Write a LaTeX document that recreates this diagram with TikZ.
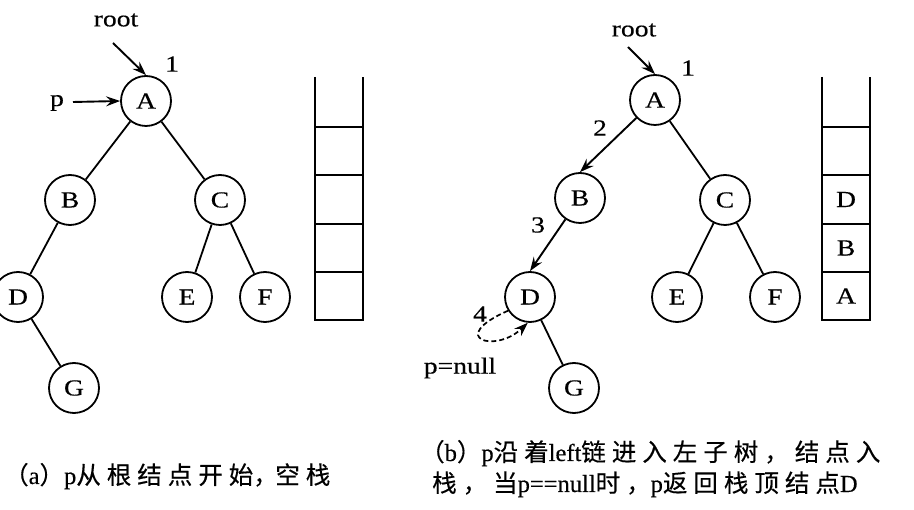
\documentclass[tikz,border=0pt]{standalone}
\usepackage{fontspec}
\setmainfont{Liberation Serif}
\newfontfamily\lab[FakeStretch=1.2,FakeBold=0.4]{Liberation Serif}
\newfontfamily\cjk[FakeBold=0.4]{Noto Sans CJK SC}
\newfontfamily\capl[FakeBold=0.3]{Liberation Serif}
\usetikzlibrary{arrows.meta}
\XeTeXinterchartokenstate=1
\XeTeXcharclass`（=7 \XeTeXcharclass`）=7 \XeTeXcharclass`，=7
\XeTeXcharclass`从=7 \XeTeXcharclass`根=7 \XeTeXcharclass`结=7
\XeTeXcharclass`点=7 \XeTeXcharclass`开=7 \XeTeXcharclass`始=7
\XeTeXcharclass`空=7 \XeTeXcharclass`栈=7 \XeTeXcharclass`沿=7
\XeTeXcharclass`着=7 \XeTeXcharclass`链=7 \XeTeXcharclass`进=7
\XeTeXcharclass`入=7 \XeTeXcharclass`左=7 \XeTeXcharclass`子=7
\XeTeXcharclass`树=7 \XeTeXcharclass`当=7 \XeTeXcharclass`时=7
\XeTeXcharclass`返=7 \XeTeXcharclass`回=7 \XeTeXcharclass`顶=7
\XeTeXinterchartoks 7 7 = {\hskip 6pt\relax}
\begin{document}
\begin{tikzpicture}[x=1pt,y=-1pt,
  vtx/.style={circle,draw,line width=1.8pt,minimum size=50pt,inner sep=0pt,font=\lab\fontsize{23}{23}\selectfont},
  edge/.style={line width=1.8pt},
  tip/.style={-{Stealth[length=14pt,width=10pt,inset=5pt]}},
  arr/.style={line width=1.9pt,tip},
  lbl/.style={font=\lab\fontsize{23}{23}\selectfont,inner sep=0pt},
  stk/.style={line width=1.8pt},
  captext/.style={inner sep=0pt,anchor=base west,font=\fontsize{24.5}{25}\selectfont}]
\useasboundingbox (0,0) rectangle (914,510);
% ---------- (a) ----------
\node[vtx] (aA) at (146,101) {A};
\node[vtx] (aB) at (70,200) {B};
\node[vtx] (aC) at (220,200) {C};
\node[vtx] (aD) at (18,297) {D};
\node[vtx] (aE) at (187,297) {E};
\node[vtx] (aF) at (265,297) {F};
\node[vtx] (aG) at (74,388) {G};
\draw[edge] (aA) -- (aB);
\draw[edge] (aA) -- (aC);
\draw[edge] (aB) -- (aD);
\draw[edge] (aC) -- (aE);
\draw[edge] (aC) -- (aF);
\draw[edge] (aD) -- (aG);
\node[lbl] (aroot) at (116,20) {root};
\coordinate (arootS) at (113,43);
\draw[arr] (arootS) -- (aA.north);
\node[lbl] (aone) at (172,64) {1};
\node[lbl] (ap) at (57,103) {p};
\coordinate (apS) at (73,102);
\draw[arr] (apS) -- (aA.west);
% stack (a)
\draw[stk] (315,77) -- (315,320) -- (363,320) -- (363,77);
\foreach \yy in {127,175,224,272} \draw[stk] (315,\yy) -- (363,\yy);
% ---------- (b) ----------
\node[vtx] (bA) at (655,100) {A};
\node[vtx] (bB) at (580,198) {B};
\node[vtx] (bC) at (725,200) {C};
\node[vtx] (bD) at (530,297) {D};
\node[vtx] (bE) at (677,297) {E};
\node[vtx] (bF) at (775,297) {F};
\node[vtx] (bG) at (574,388) {G};
\draw[arr] (bA) -- (bB.north);
\draw[arr] (bB) -- (bD.north);
\draw[edge] (bA) -- (bC);
\draw[edge] (bC) -- (bE);
\draw[edge] (bC) -- (bF);
\draw[edge] (bD) -- (bG);
\node[lbl] (broot) at (634,30) {root};
\coordinate (brootS) at (628,47);
\draw[arr] (brootS) -- (bA.north);
\node[lbl] (bone) at (688,68) {1};
\node[lbl] (btwo) at (600,128) {2};
\node[lbl] (bthree) at (538,225) {3};
\node[lbl] (bfour) at (480,314) {4};
\node[lbl] (bnull) at (460,368) {p=null};
\draw[line width=1.7pt,dash pattern=on 5pt off 3pt,tip]
  (bD.212) .. controls (446,338) and (495,354) .. (bD.265);
% stack (b)
\draw[stk] (822,77) -- (822,320) -- (870,320) -- (870,77);
\foreach \yy in {127,175,224,272} \draw[stk] (822,\yy) -- (870,\yy);
\node[lbl] (sD) at (846,199.5) {D};
\node[lbl] (sB) at (846,248) {B};
\node[lbl] (sA) at (846,296) {A};
% ---------- captions ----------
\node[captext] (capa) at (4,484) {\cjk （\capl a\cjk ）\capl p\cjk 从根结点开始\makebox[22pt][l]{，}空栈};
\node[captext] (capb1) at (420,461) {\cjk （\capl b\cjk ）\capl p\cjk 沿着\capl left\cjk 链进入左子树，结点入};
\node[captext] (capb2) at (432,492) {\cjk 栈，当\capl p==null\cjk 时，\capl p\cjk 返回栈顶结点\capl D};
\end{tikzpicture}
\end{document}
